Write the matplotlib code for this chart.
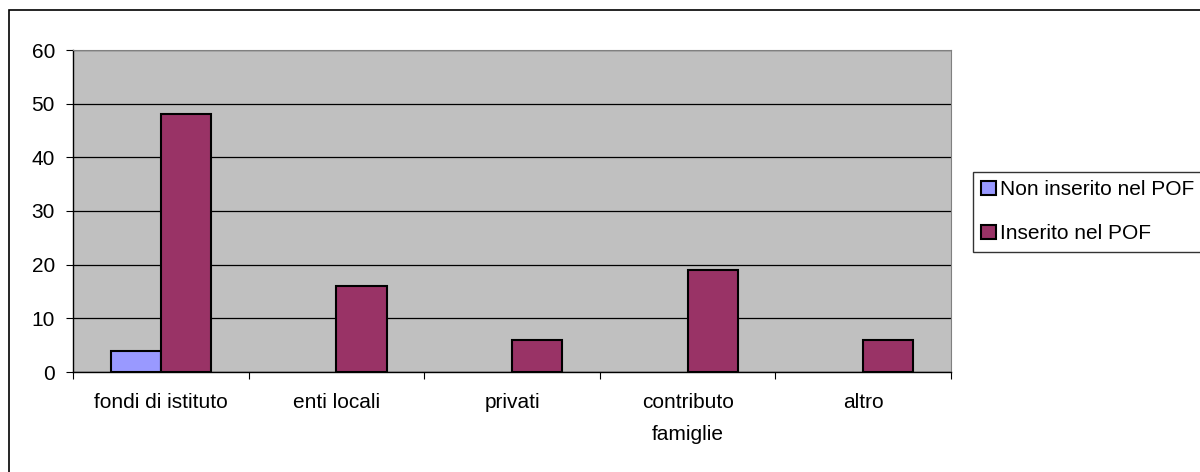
import numpy as np
import matplotlib.pyplot as plt
from matplotlib.patches import Rectangle

categories = ["fondi di istituto", "enti locali", "privati", "contributo\nfamiglie", "altro"]
non_inserito = [4, 0, 0, 0, 0]
inserito = [48, 16, 6, 19, 6]
series_names = ["Non inserito nel POF", "Inserito nel POF"]

plt.rcParams["font.family"] = ["Liberation Sans", "DejaVu Sans"]
fs = 15

fig = plt.figure(figsize=(12, 4.72), dpi=100)
ax = fig.add_axes([73 / 1200, 1 - 372 / 472, 878 / 1200, 322 / 472])
ax.set_facecolor("#C0C0C0")

x = np.arange(len(categories))
w = 1 / 3.5
b1 = ax.bar(x - w / 2, non_inserito, w, color="#9999FF", edgecolor="black", linewidth=1.5,
            label=series_names[0], zorder=3)
b2 = ax.bar(x + w / 2, inserito, w, color="#993366", edgecolor="black", linewidth=1.5,
            label=series_names[1], zorder=3)
# Excel leaves empty bars undrawn
for p in list(b1) + list(b2):
    if p.get_height() == 0:
        p.set_visible(False)

ax.set_xlim(-0.5, len(categories) - 0.5)
ax.set_ylim(0, 60)
ax.set_yticks(range(0, 61, 10))
ax.yaxis.grid(True, color="black", linewidth=0.9, zorder=1)
ax.set_axisbelow(True)

ax.set_xticks(np.arange(-0.5, len(categories), 1))
ax.set_xticklabels([])
ax.set_xticks(x, minor=True)
ax.set_xticklabels(categories, minor=True, fontsize=fs, linespacing=1.9)
ax.tick_params(axis="x", which="minor", length=0, pad=15)
ax.tick_params(axis="x", which="major", length=5, color="black")
ax.tick_params(axis="y", length=5, labelsize=fs, pad=8)

for s in ["top", "right"]:
    ax.spines[s].set_color("#808080")
    ax.spines[s].set_linewidth(0.8)
for s in ["left", "bottom"]:
    ax.spines[s].set_color("black")
    ax.spines[s].set_linewidth(1.0)

leg = fig.legend(loc="upper left", bbox_to_anchor=(973 / 1200, 1 - 172 / 472),
                 frameon=True, fancybox=False, edgecolor="black", fontsize=fs,
                 handlelength=0.7, handleheight=0.7, handletextpad=0.2,
                 borderaxespad=0, labelspacing=1.2, borderpad=0.4)
leg.get_frame().set_linewidth(1.0)

fig.patches.append(Rectangle((9 / 1200, -0.1), 1.2, 1.1 - 10 / 472,
                             transform=fig.transFigure, fill=False,
                             edgecolor="black", linewidth=1.2))

fig.savefig("out.png", dpi=100)
